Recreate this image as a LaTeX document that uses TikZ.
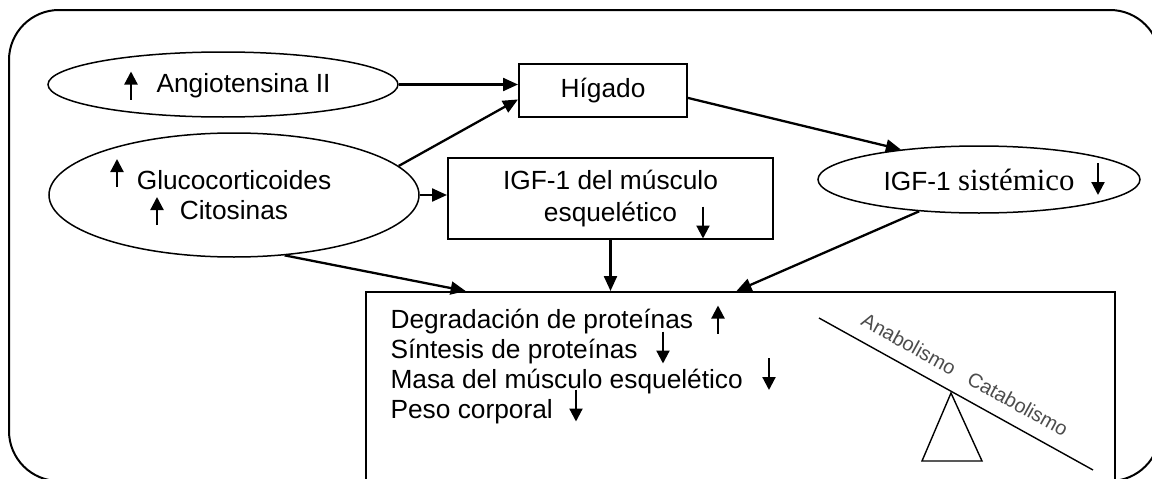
\documentclass[tikz,border=0pt]{standalone}
\usepackage{fontspec}
\setmainfont{Liberation Sans}
\newfontfamily\serifa{Liberation Serif}
\usepackage{tikz}
\usetikzlibrary{shapes.geometric,arrows.meta}

\tikzset{
  ovalo/.style={ellipse, draw, line width=1.5pt, inner sep=0pt},
  caja/.style={rectangle, draw, line width=2pt, inner sep=0pt},
  flecha/.style={-{Triangle[length=15pt,width=13pt]}, line width=2.3pt},
  flechita/.style={-{Triangle[length=13pt,width=13pt]}, line width=2.2pt},
  texto/.style={font=\fontsize{26.3}{30}\selectfont},
  balanza/.style={font=\fontsize{20}{20}\selectfont, text=black!70, rotate=-29}
}
% kleine Pfeile im Text (Mittelpunkt)
\newcommand{\arriba}[1]{\draw[flechita] (#1) ++(0,14) -- ++(0,-28);}
\newcommand{\abajo}[1]{\draw[flechita] (#1) ++(0,-16) -- ++(0,32);}

\begin{document}
\begin{tikzpicture}[x=1pt, y=-1pt]
        \useasboundingbox (0,0) rectangle (1152,479);
        \clip (0,0) rectangle (1152,479);

        % Rahmen
        \draw[line width=2pt, rounded corners=50pt] (9,10) rectangle (1160,481);

        % Ovale
        \node[ovalo, minimum width=350pt, minimum height=65pt] (angio) at (223,84.5) {};
        \node[texto] (angiotxt) at (243.5,86) {Angiotensina II};
        \node[ovalo, texto, align=center, minimum width=370pt, minimum height=124pt] (gluco) at (234,195) {Glucocorticoides\\Citosinas};
        \node[ovalo, texto, minimum width=322pt, minimum height=67pt] (sistemico) at (979,179.5) {IGF-1 {\serifa\fontsize{30.8}{30}\selectfont sistémico}};

        % Kaesten
        \node[caja, texto, minimum width=168pt, minimum height=53pt] (higado) at (603,90.5) {Hígado};
        \node[caja, texto, align=center, minimum width=325pt, minimum height=81pt] (musculo) at (610.5,198.5) {IGF-1 del músculo\\[2pt]esquelético};
        \node[caja, minimum width=749pt, minimum height=198pt] (efectos) at (740.5,391) {};

        % Wirkungen
        \node[texto, anchor=base west] (linea1) at (387,328) {Degradación de proteínas};
        \node[texto, anchor=base west] (linea2) at (387,358) {Síntesis de proteínas};
        \node[texto, anchor=base west] (linea3) at (387,388) {Masa del músculo esquelético};
        \node[texto, anchor=base west] (linea4) at (387,418) {Peso corporal};

        % Pfeile
        \draw[flecha] (angio.east) -- (angio.east -| higado.west);
        \draw[flecha] (gluco.10) -- (higado.186);
        \draw[flecha] (gluco.east) -- (gluco.east -| musculo.west);
        \draw[flecha] (higado.-5) -- (sistemico.159);
        \draw[flecha] (sistemico.208) -- ([xshift=-4pt]efectos.north);
        \draw[flecha] (musculo.south) -- (musculo.south |- efectos.north);
        \draw[flecha] (gluco.-50) -- (efectos.160);

        % kleine Pfeile
        \arriba{131,85.5}
        \arriba{117,173}
        \arriba{157,211}
        \abajo{703,222.5}
        \abajo{1098,179}
        \arriba{718,319.5}
        \abajo{663,347.5}
        \abajo{769,374}
        \abajo{576,405.5}

        % Waage
        \draw[line width=1.4pt] (819,318) -- (1093,470);
        \draw[line width=1.4pt] (951,393) -- (922,461) -- (982,461) -- cycle;
        \node[balanza] (anabolismo) at (909,344) {Anabolismo};
        \node[balanza] (catabolismo) at (1018,404) {Catabolismo};
\end{tikzpicture}
\end{document}
